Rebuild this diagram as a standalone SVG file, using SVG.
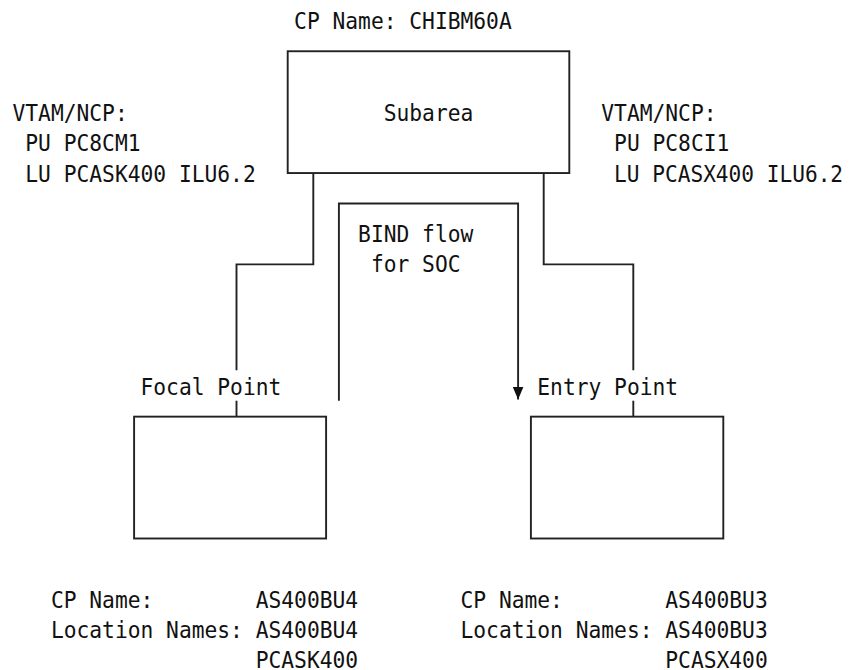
<svg xmlns="http://www.w3.org/2000/svg" width="849" height="670" viewBox="0 0 849 670">
<style>
text{font-family:"DejaVu Sans Mono","Liberation Mono",monospace;font-size:23px;fill:#111;}
.ln{fill:none;stroke:#222;stroke-width:1.9;}
</style>
<defs>
<marker id="ah" viewBox="0 0 12 12" markerWidth="13" markerHeight="11" refX="12" refY="6" orient="auto" markerUnits="userSpaceOnUse" preserveAspectRatio="none">
<path d="M0,0 L12,6 L0,12 z" fill="#111"/>
</marker>
</defs>
<rect width="849" height="670" fill="#fff"/>

<g id="subarea">
<text x="294.1" y="29.3" textLength="217.6" lengthAdjust="spacingAndGlyphs">CP Name: CHIBM60A</text>
<rect class="ln" x="287.7" y="51.25" width="281.6" height="121.8"/>
<text x="383.7" y="120.65" textLength="89.6" lengthAdjust="spacingAndGlyphs">Subarea</text>
</g>

<g id="vtam-left">
<text x="12.5" y="120.65" textLength="115.2" lengthAdjust="spacingAndGlyphs">VTAM/NCP:</text>
<text x="25.3" y="151.1" textLength="115.2" lengthAdjust="spacingAndGlyphs">PU PC8CM1</text>
<text x="25.3" y="181.55" textLength="230.4" lengthAdjust="spacingAndGlyphs">LU PCASK400 ILU6.2</text>
</g>

<g id="vtam-right">
<text x="601.3" y="120.65" textLength="115.2" lengthAdjust="spacingAndGlyphs">VTAM/NCP:</text>
<text x="614.1" y="151.1" textLength="115.2" lengthAdjust="spacingAndGlyphs">PU PC8CI1</text>
<text x="614.1" y="181.55" textLength="229" lengthAdjust="spacingAndGlyphs">LU PCASX400 ILU6.2</text>
</g>

<g id="focal-point">
<text x="140.5" y="394.7" textLength="140.8" lengthAdjust="spacingAndGlyphs">Focal Point</text>
<rect class="ln" x="134.1" y="416.65" width="192" height="121.85"/>
<text x="50.9" y="608" textLength="102.4" lengthAdjust="spacingAndGlyphs">CP Name:</text>
<text x="255.7" y="608" textLength="102.4" lengthAdjust="spacingAndGlyphs">AS400BU4</text>
<text x="50.9" y="638" textLength="192" lengthAdjust="spacingAndGlyphs">Location Names:</text>
<text x="255.7" y="638" textLength="102.4" lengthAdjust="spacingAndGlyphs">AS400BU4</text>
<text x="255.7" y="667.5" textLength="102.4" lengthAdjust="spacingAndGlyphs">PCASK400</text>
</g>

<g id="entry-point">
<text x="537.3" y="394.7" textLength="140.8" lengthAdjust="spacingAndGlyphs">Entry Point</text>
<rect class="ln" x="530.9" y="416.65" width="192.4" height="121.85"/>
<text x="460.5" y="608" textLength="102.4" lengthAdjust="spacingAndGlyphs">CP Name:</text>
<text x="665.3" y="608" textLength="102.4" lengthAdjust="spacingAndGlyphs">AS400BU3</text>
<text x="460.5" y="638" textLength="192" lengthAdjust="spacingAndGlyphs">Location Names:</text>
<text x="665.3" y="638" textLength="102.4" lengthAdjust="spacingAndGlyphs">AS400BU3</text>
<text x="665.3" y="667.5" textLength="102.4" lengthAdjust="spacingAndGlyphs">PCASX400</text>
</g>

<g id="bind-flow">
<text x="358.1" y="242" textLength="115.2" lengthAdjust="spacingAndGlyphs">BIND flow</text>
<text x="370.9" y="272.45" textLength="89.6" lengthAdjust="spacingAndGlyphs">for SOC</text>
</g>

<g id="connectors">
<path class="ln" d="M313.3,173.05 V264.4 H236.5 V370.3"/>
<path class="ln" d="M236.5,400.7 V416.65"/>
<path class="ln" d="M543.7,173.05 V264.4 H633.3 V370.3"/>
<path class="ln" d="M633.3,400.7 V416.65"/>
<path class="ln" d="M338.9,400.7 V203.5 H518.1 V399.5" marker-end="url(#ah)"/>
</g>
</svg>
